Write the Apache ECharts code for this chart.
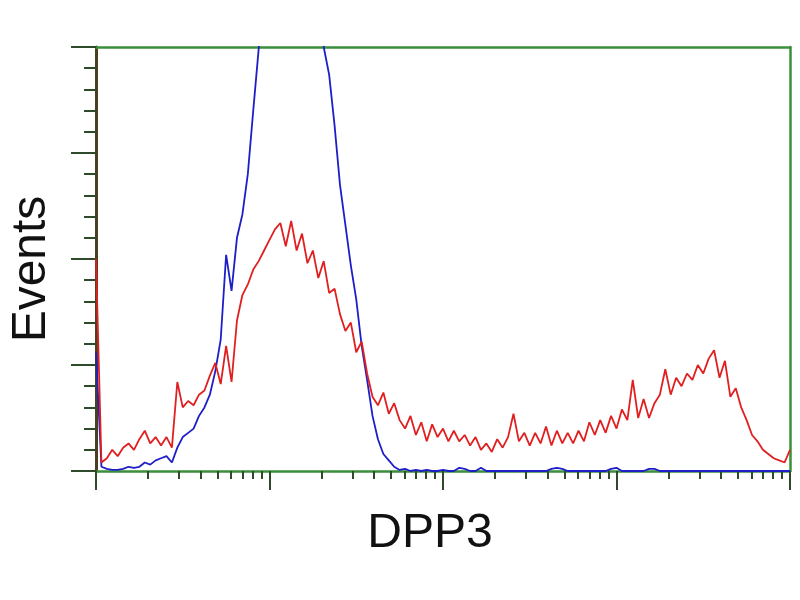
<!DOCTYPE html>
<html>
<head>
<meta charset="utf-8">
<script src="https://cdn.jsdelivr.net/npm/echarts@6/dist/echarts.min.js"></script>
<style>html,body{margin:0;padding:0;background:#fff}#c{width:800px;height:600px}</style>
</head>
<body>
<div id="c"></div>
<script>
// Histogram bins: 129 bins, 8 channels apart, over 1024 channels (4 log decades)
var binWidth = 8;
var decadeChannels = 256;
var redCounts = [100,4,6,10,7,11,13,10,15,19,13,16,12,16,11,42,30,33,31,36,38,45,51,41,59,42,71,83,88,95,99,104,109,114,117,106,118,104,112,98,104,91,99,84,86,74,66,70,56,61,46,35,31,37,27,32,24,20,26,17,23,14,22,16,20,14,19,14,17,12,16,10,13,9,15,11,16,27,14,18,12,18,13,21,12,19,13,18,13,19,14,23,17,24,18,26,20,29,24,43,25,34,25,32,36,48,36,44,40,46,43,50,46,53,57,44,52,35,39,30,24,17,14,10,8,6,5,4,10];
var blueCounts = [56,2,1,0.5,0.5,1,2,1.5,2,4,3,5,6,7,4,11,16,18,20,26,30,36,47,62,102,85,110,121,140,170,199,230,260,280,290,295,290,285,275,260,245,225,200,187,163,135,116,97,81,59,43,26,15,8,5,2,0.5,1,0,0.5,0,0.5,0,0,0.5,0,0,1.5,1,0,0,1.5,0,0,0,0,0,0,0,0,0,0,0,0,1,1.5,1,0,0,0,0,0,0,0,0,1,1.5,0,0,0,0,0,1,1,0,0,0,0,0,0,0,0,0,0,0,0,0,0,0,0,0,0,0,0,0,0,0,0,0];
var yMax = 200, yInterval = 50;

var frameGreen = '#3a8f3a';
var tickDark = '#2f4a2a';

function pairs(arr){ return arr.map(function(v,i){ return [i*binWidth, v]; }); }
var majorTicks = [], minorTicks = [];
for (var d = 0; d <= 4; d++) {
  majorTicks.push(d*decadeChannels);
  if (d < 4) for (var k = 2; k <= 9; k++) minorTicks.push(decadeChannels*(d + Math.log10(k)));
}
var xMax = 4*decadeChannels;

var chart = echarts.init(document.getElementById('c'));
chart.setOption({
  animation: false,
  backgroundColor: '#ffffff',
  grid: {left: 95, right: 10, top: 47, bottom: 129, containLabel: false},
  xAxis: [
    {type: 'value', min: 0, max: xMax, position: 'bottom',
     axisLine: {show: true, onZero: false, lineStyle: {color: frameGreen, width: 2.5}},
     axisTick: {show: true, customValues: minorTicks, length: 8, lineStyle: {color: tickDark, width: 2}},
     axisLabel: {show: false}, splitLine: {show: false}},
    {type: 'value', min: 0, max: xMax, position: 'bottom',
     name: 'DPP3', nameLocation: 'middle', nameGap: 39,
     nameTextStyle: {fontFamily: 'Liberation Sans', fontSize: 48, color: '#111', padding: [0, 26, 0, 0]},
     axisLine: {show: false, onZero: false},
     axisTick: {show: true, customValues: majorTicks, length: 19, lineStyle: {color: tickDark, width: 2}},
     axisLabel: {show: false}, splitLine: {show: false}},
    {type: 'value', min: 0, max: xMax, position: 'top',
     axisLine: {show: true, onZero: false, lineStyle: {color: frameGreen, width: 2.5}},
     axisTick: {show: false}, axisLabel: {show: false}, splitLine: {show: false}}
  ],
  yAxis: [
    {type: 'value', min: 0, max: yMax, interval: yInterval, position: 'left',
     name: 'Events', nameLocation: 'middle', nameGap: 40, nameRotate: 90,
     nameTextStyle: {fontFamily: 'Liberation Sans', fontSize: 48, color: '#111', padding: [0, 20, 0, 0]},
     axisLine: {show: true, onZero: false, lineStyle: {color: '#4a4020', width: 3}},
     axisTick: {show: true, length: 25, lineStyle: {color: tickDark, width: 2}},
     minorTick: {show: true, splitNumber: 5, length: 12, lineStyle: {color: tickDark, width: 2}},
     axisLabel: {show: false}, splitLine: {show: false}},
    {type: 'value', min: 0, max: yMax, position: 'right',
     axisLine: {show: true, onZero: false, lineStyle: {color: frameGreen, width: 2.5}},
     axisTick: {show: false}, axisLabel: {show: false}, splitLine: {show: false}}
  ],
  series: [
    {type: 'line', name: 'control', data: pairs(blueCounts), xAxisIndex: 0, yAxisIndex: 0,
     showSymbol: false, clip: true, smooth: false,
     lineStyle: {color: '#1e1ec8', width: 1.8}, z: 3},
    {type: 'line', name: 'DPP3', data: pairs(redCounts), xAxisIndex: 0, yAxisIndex: 0,
     showSymbol: false, clip: true, smooth: false,
     lineStyle: {color: '#e02020', width: 1.8}, z: 4}
  ]
});
</script>
</body>
</html>
